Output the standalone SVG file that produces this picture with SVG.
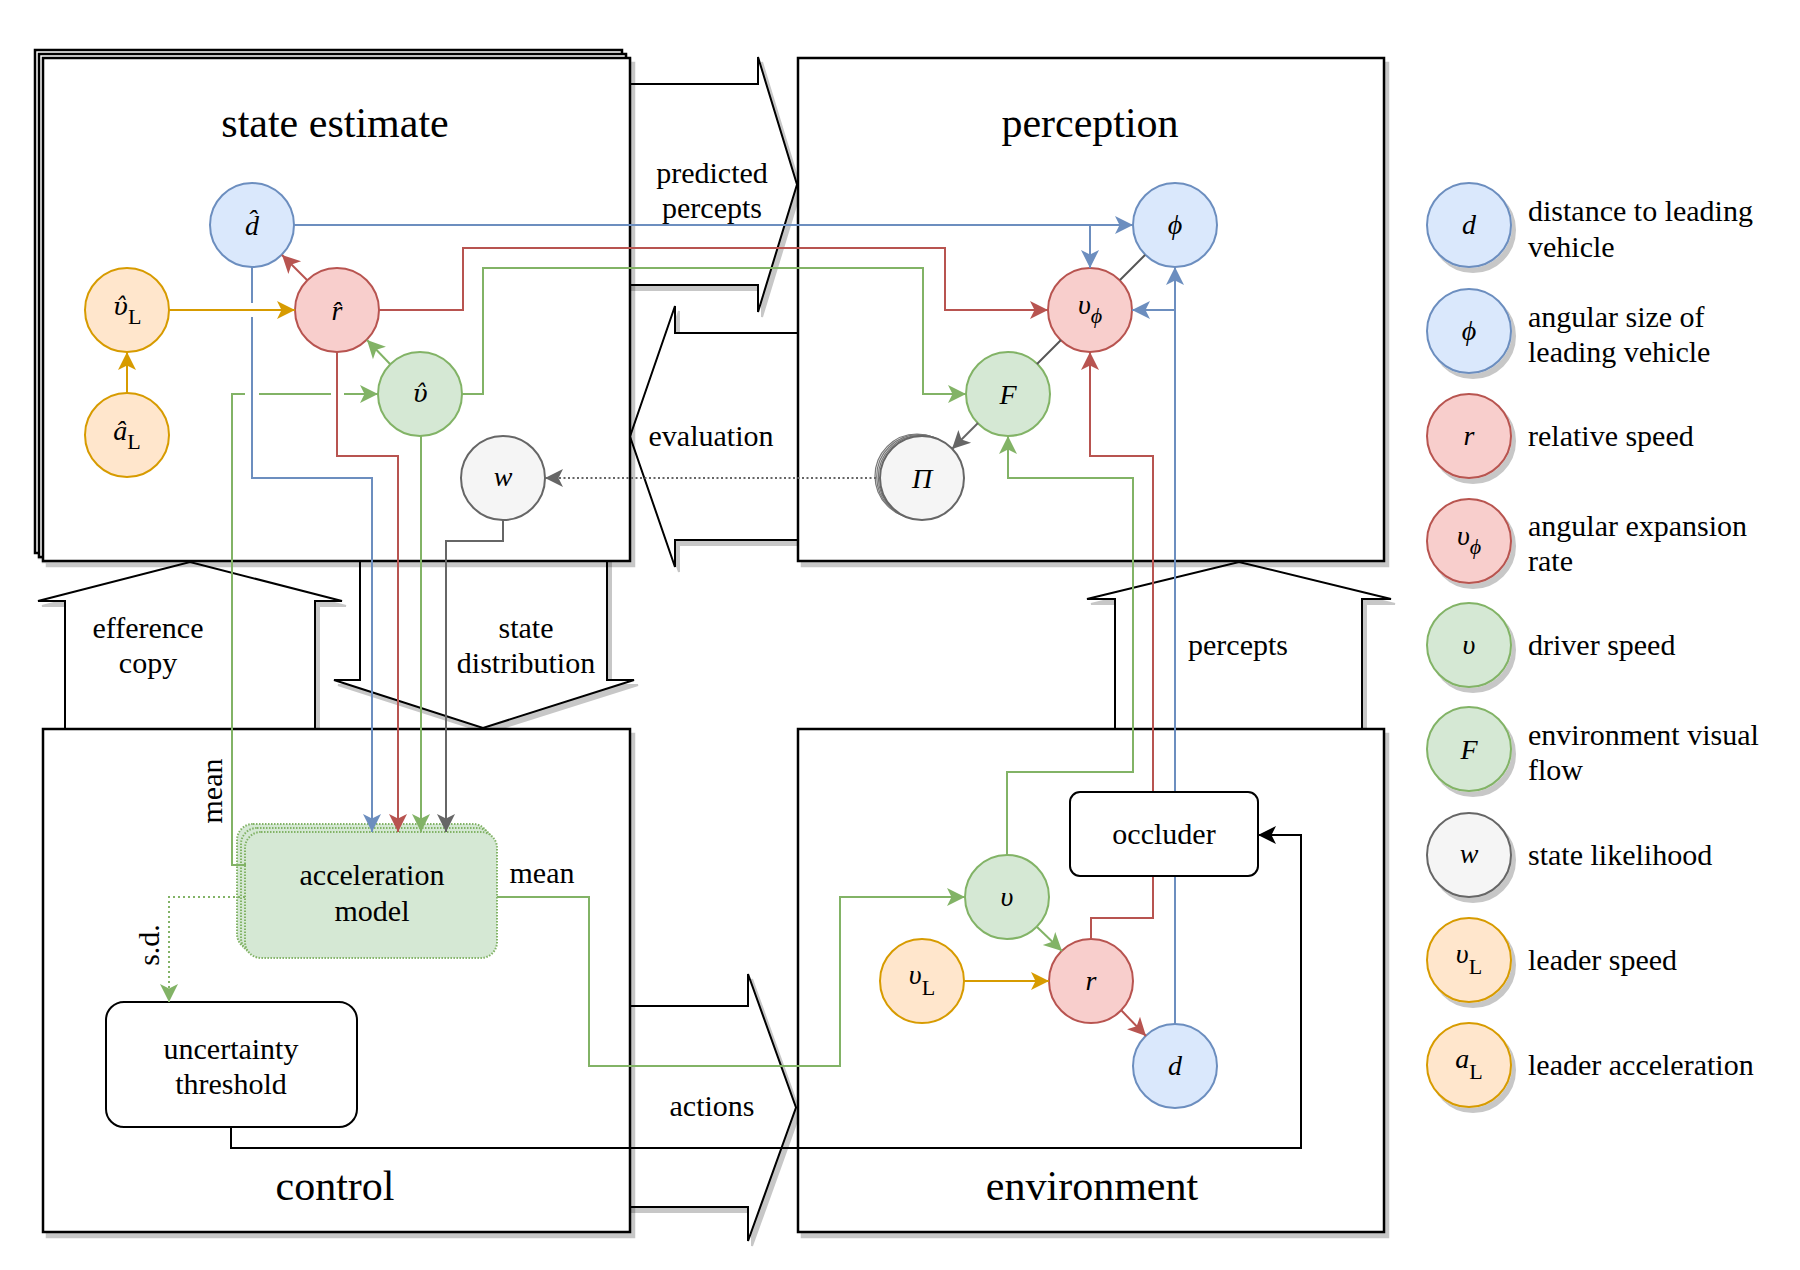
<svg xmlns="http://www.w3.org/2000/svg" width="1800" height="1270" viewBox="0 0 1800 1270">
<defs>
<style>
.box{fill:#fff;stroke:#000;stroke-width:2.5}
.ba{fill:#fff;stroke:#000;stroke-width:2;stroke-linejoin:miter}
.title{font-family:"Liberation Serif","DejaVu Serif",serif;font-size:42px;text-anchor:middle;fill:#000}
.lbl{font-family:"Liberation Serif","DejaVu Serif",serif;font-size:30px;text-anchor:middle;fill:#000}
.leg{font-family:"Liberation Serif","DejaVu Serif",serif;font-size:30px;fill:#000}
.m{font-family:"Liberation Serif","DejaVu Serif",serif;font-style:italic;font-size:28px;text-anchor:middle;fill:#000}
.mu{font-family:"DejaVu Serif",serif;font-size:25px}
.lib{font-family:"Liberation Serif","DejaVu Serif",serif}
.sub{font-style:normal;font-size:22px}
.subi{font-style:italic;font-size:22px}
.nb{fill:#dae8fc;stroke:#6c8ebf;stroke-width:2}
.nr{fill:#f8cecc;stroke:#b85450;stroke-width:2}
.ng{fill:#d5e8d4;stroke:#82b366;stroke-width:2}
.no{fill:#ffe6cc;stroke:#d79b00;stroke-width:2}
.nw{fill:#f5f5f5;stroke:#666;stroke-width:2}
.nwb{fill:#f5f5f5;stroke:#777;stroke-width:1.2}
.am{fill:#d5e8d4;stroke:#82b366;stroke-width:2;stroke-dasharray:1.5 1.5}
.rb{fill:#fff;stroke:#000;stroke-width:2}
.c{fill:none;stroke-width:2}
.cb{stroke:#6c8ebf}
.cr{stroke:#b85450}
.cg{stroke:#82b366}
.co{stroke:#d79b00}
.cw{stroke:#666}
.ck{stroke:#000}
.cd{stroke:#555}
</style>
<filter id="sh" x="-5%" y="-5%" width="115%" height="115%">
<feOffset in="SourceAlpha" dx="4" dy="5" result="o"/>
<feFlood flood-color="#000" flood-opacity="0.22"/>
<feComposite in2="o" operator="in" result="s"/>
<feMerge><feMergeNode in="s"/><feMergeNode in="SourceGraphic"/></feMerge>
</filter>
<marker id="mb" viewBox="0 0 20 20" refX="19" refY="10" markerWidth="20" markerHeight="20" orient="auto" markerUnits="userSpaceOnUse"><path d="M19,10 L1,1 L5.5,10 L1,19 Z" fill="#6c8ebf"/></marker>
<marker id="mr" viewBox="0 0 20 20" refX="19" refY="10" markerWidth="20" markerHeight="20" orient="auto" markerUnits="userSpaceOnUse"><path d="M19,10 L1,1 L5.5,10 L1,19 Z" fill="#b85450"/></marker>
<marker id="mg" viewBox="0 0 20 20" refX="19" refY="10" markerWidth="20" markerHeight="20" orient="auto" markerUnits="userSpaceOnUse"><path d="M19,10 L1,1 L5.5,10 L1,19 Z" fill="#82b366"/></marker>
<marker id="mo" viewBox="0 0 20 20" refX="19" refY="10" markerWidth="20" markerHeight="20" orient="auto" markerUnits="userSpaceOnUse"><path d="M19,10 L1,1 L5.5,10 L1,19 Z" fill="#d79b00"/></marker>
<marker id="mw" viewBox="0 0 20 20" refX="19" refY="10" markerWidth="20" markerHeight="20" orient="auto" markerUnits="userSpaceOnUse"><path d="M19,10 L1,1 L5.5,10 L1,19 Z" fill="#666"/></marker>
<marker id="mk" viewBox="0 0 20 20" refX="19" refY="10" markerWidth="20" markerHeight="20" orient="auto" markerUnits="userSpaceOnUse"><path d="M19,10 L1,1 L5.5,10 L1,19 Z" fill="#000"/></marker>
</defs>
<rect width="1800" height="1270" fill="#fff"/>

<!-- block arrows -->
<g id="arrow-predicted-percepts" filter="url(#sh)"><polygon class="ba" points="620,84 758,84 758,57 797,184.5 758,312 758,285 620,285"/></g>
<g id="arrow-evaluation" filter="url(#sh)"><polygon class="ba" points="800,333 675,333 675,306 630,436.5 675,567 675,540 800,540"/></g>
<g id="arrow-actions" filter="url(#sh)"><polygon class="ba" points="620,1006 748,1006 748,974 796,1107.5 748,1241 748,1207 620,1207"/></g>
<g id="arrow-efference" filter="url(#sh)"><polygon class="ba" points="65,735 65,601 38,601 190,562 342,601 315,601 315,735"/></g>
<g id="arrow-state-distribution" filter="url(#sh)"><polygon class="ba" points="360,555 360,680 334,680 483,728 634,680 607,680 607,555"/></g>
<g id="arrow-percepts" filter="url(#sh)"><polygon class="ba" points="1115,735 1115,599 1087,599 1239,562 1391,599 1362,599 1362,735"/></g>

<!-- containers -->
<g id="state-estimate" filter="url(#sh)">
<rect class="box" x="35" y="50" width="587" height="503"/>
<rect class="box" x="39" y="54" width="587" height="503"/>
<rect class="box" x="43" y="58" width="587" height="503"/>
</g>
<g id="perception" filter="url(#sh)"><rect class="box" x="798" y="58" width="586" height="503"/></g>
<g id="control" filter="url(#sh)"><rect class="box" x="43" y="729" width="587" height="503"/></g>
<g id="environment" filter="url(#sh)"><rect class="box" x="798" y="729" width="586" height="503"/></g>

<g id="titles">
<text class="title" x="335" y="137">state estimate</text>
<text class="title" x="1090" y="137">perception</text>
<text class="title" x="335" y="1200">control</text>
<text class="title" x="1092" y="1200">environment</text>
<text class="lbl" x="712" y="183">predicted</text>
<text class="lbl" x="712" y="218">percepts</text>
<text class="lbl" x="711" y="446">evaluation</text>
<text class="lbl" x="148" y="638">efference</text>
<text class="lbl" x="148" y="673">copy</text>
<text class="lbl" x="526" y="638">state</text>
<text class="lbl" x="526" y="673">distribution</text>
<text class="lbl" x="1238" y="655">percepts</text>
<text class="lbl" x="712" y="1116">actions</text>
<text class="lbl" x="542" y="883">mean</text>
<text class="lbl" transform="translate(222,791) rotate(-90)">mean</text>
<text class="lbl" transform="translate(159,945) rotate(-90)">s.d.</text>
</g>

<!-- state estimate nodes -->
<g id="node-d-hat"><circle class="nb" cx="252" cy="225" r="42"/><text class="m" x="252" y="235">d̂</text></g>
<g id="node-vL-hat"><circle class="no" cx="127" cy="310" r="42"/><text class="m mu" x="127" y="315">υ̂<tspan class="sub lib" dy="9">L</tspan></text></g>
<g id="node-aL-hat"><circle class="no" cx="127" cy="435" r="42"/><text class="m" x="127" y="440">â<tspan class="sub" dy="9">L</tspan></text></g>
<g id="node-r-hat"><circle class="nr" cx="337" cy="310" r="42"/><text class="m" x="337" y="320">r̂</text></g>
<g id="node-v-hat"><circle class="ng" cx="420" cy="394" r="42"/><text class="m mu" x="420" y="402">υ̂</text></g>
<g id="node-w"><circle class="nw" cx="503" cy="478" r="42"/><text class="m" x="503" y="486">w</text></g>

<!-- perception nodes -->
<g id="node-phi"><circle class="nb" cx="1175" cy="225" r="42"/><text class="m" x="1175" y="234">ϕ</text></g>
<g id="node-vphi"><circle class="nr" cx="1090" cy="310" r="42"/><text class="m" x="1090" y="314">υ<tspan class="subi" dy="9">ϕ</tspan></text></g>
<g id="node-F"><circle class="ng" cx="1008" cy="394" r="42"/><text class="m" x="1008" y="404">F</text></g>
<g id="node-Pi">
<circle class="nwb" cx="917" cy="476" r="42"/>
<circle class="nwb" cx="918.7" cy="476.7" r="42"/>
<circle class="nwb" cx="920.3" cy="477.3" r="42"/>
<circle class="nw" cx="922" cy="478" r="42"/>
<text class="m" x="922" y="488">Π</text></g>

<!-- control nodes -->
<g id="node-acceleration-model">
<rect class="am" x="237" y="824" width="252" height="126" rx="16"/>
<rect class="am" x="241" y="828" width="252" height="126" rx="16"/>
<rect class="am" x="245" y="832" width="252" height="126" rx="16"/>
<text class="lbl" x="372" y="885">acceleration</text>
<text class="lbl" x="372" y="921">model</text>
</g>
<g id="node-uncertainty-threshold"><rect class="rb" x="106" y="1002" width="251" height="125" rx="18"/>
<text class="lbl" x="231" y="1059">uncertainty</text>
<text class="lbl" x="231" y="1094">threshold</text></g>

<!-- environment nodes -->
<g id="node-v"><circle class="ng" cx="1007" cy="897" r="42"/><text class="m" x="1007" y="906">υ</text></g>
<g id="node-vL"><circle class="no" cx="922" cy="981" r="42"/><text class="m" x="922" y="984">υ<tspan class="sub" dy="11">L</tspan></text></g>
<g id="node-r"><circle class="nr" cx="1091" cy="981" r="42"/><text class="m" x="1091" y="990">r</text></g>
<g id="node-d"><circle class="nb" cx="1175" cy="1066" r="42"/><text class="m" x="1175" y="1075">d</text></g>

<!-- connectors -->
<g id="connectors">
<path class="c cb" d="M294,225 H1133" marker-end="url(#mb)"/>
<path class="c cb" d="M1090,225 V268" marker-end="url(#mb)"/>
<path class="c cb" d="M252,267 V303 M252,317 V478 H372 V832" marker-end="url(#mb)"/>
<path class="c cb" d="M1175,1024 V267" marker-end="url(#mb)"/>
<path class="c cb" d="M1175,310 H1132" marker-end="url(#mb)"/>

<path class="c cr" d="M307,280 L282,255" marker-end="url(#mr)"/>
<path class="c cr" d="M379,310 H463 V248 H945 V310 H1048" marker-end="url(#mr)"/>
<path class="c cr" d="M337,352 V456 H398 V832" marker-end="url(#mr)"/>
<path class="c cr" d="M1091,939 V918 H1153 V456 H1090 V352" marker-end="url(#mr)"/>
<path class="c cr" d="M1121,1010 L1146,1036" marker-end="url(#mr)"/>

<path class="c cg" d="M390,364 L367,340" marker-end="url(#mg)"/>
<path class="c cg" d="M246,865 H232 V394 H245 M259,394 H331 M344,394 H378" marker-end="url(#mg)"/>
<path class="c cg" d="M421,436 V832" marker-end="url(#mg)"/>
<path class="c cg" d="M462,394 H483 V268 H923 V394 H966" marker-end="url(#mg)"/>
<path class="c cg" d="M1007,855 V772 H1133 V478 H1008 V436" marker-end="url(#mg)"/>
<path class="c cg" d="M497,897 H589 V1066 H840 V897 H965" marker-end="url(#mg)"/>
<path class="c cg" d="M1037,927 L1062,951" marker-end="url(#mg)"/>
<path class="c cg" d="M245,897 H169 V1002" stroke-dasharray="2 3" marker-end="url(#mg)"/>

<path class="c co" d="M127,393 V352" marker-end="url(#mo)"/>
<path class="c co" d="M169,310 H295" marker-end="url(#mo)"/>
<path class="c co" d="M964,981 H1049" marker-end="url(#mo)"/>

<path class="c cw" d="M503,520 V541 H446 V832" marker-end="url(#mw)"/>
<path class="c cd" d="M1145,255 L1120,280"/>
<path class="c cd" d="M1061,340 L1037,364"/>
<path class="c cw" d="M978,423 L952,449" marker-end="url(#mw)"/>
<path class="c cw" d="M876,478 H545" stroke-dasharray="2 2.5" marker-end="url(#mw)"/>

<path class="c ck" d="M231,1127 V1148 H1301 V835 H1258" marker-end="url(#mk)"/>
</g>

<g id="node-occluder"><rect class="rb" x="1070" y="792" width="188" height="84" rx="10"/>
<text class="lbl" x="1164" y="844">occluder</text></g>

<!-- legend -->
<g id="legend-d"><circle class="nb" cx="1469" cy="225" r="42" filter="url(#sh)"/><text class="m" x="1469" y="234">d</text>
<text class="leg" x="1528" y="221">distance to leading</text><text class="leg" x="1528" y="257">vehicle</text></g>
<g id="legend-phi"><circle class="nb" cx="1469" cy="331" r="42" filter="url(#sh)"/><text class="m" x="1469" y="340">ϕ</text>
<text class="leg" x="1528" y="327">angular size of</text><text class="leg" x="1528" y="362">leading vehicle</text></g>
<g id="legend-r"><circle class="nr" cx="1469" cy="436" r="42" filter="url(#sh)"/><text class="m" x="1469" y="445">r</text>
<text class="leg" x="1528" y="446">relative speed</text></g>
<g id="legend-vphi"><circle class="nr" cx="1469" cy="541" r="42" filter="url(#sh)"/><text class="m" x="1469" y="545">υ<tspan class="subi" dy="9">ϕ</tspan></text>
<text class="leg" x="1528" y="536">angular expansion</text><text class="leg" x="1528" y="571">rate</text></g>
<g id="legend-v"><circle class="ng" cx="1469" cy="645" r="42" filter="url(#sh)"/><text class="m" x="1469" y="654">υ</text>
<text class="leg" x="1528" y="655">driver speed</text></g>
<g id="legend-F"><circle class="ng" cx="1469" cy="749" r="42" filter="url(#sh)"/><text class="m" x="1469" y="759">F</text>
<text class="leg" x="1528" y="745">environment visual</text><text class="leg" x="1528" y="780">flow</text></g>
<g id="legend-w"><circle class="nw" cx="1469" cy="855" r="42" filter="url(#sh)"/><text class="m" x="1469" y="863">w</text>
<text class="leg" x="1528" y="865">state likelihood</text></g>
<g id="legend-vL"><circle class="no" cx="1469" cy="960" r="42" filter="url(#sh)"/><text class="m" x="1469" y="963">υ<tspan class="sub" dy="11">L</tspan></text>
<text class="leg" x="1528" y="970">leader speed</text></g>
<g id="legend-aL"><circle class="no" cx="1469" cy="1065" r="42" filter="url(#sh)"/><text class="m" x="1469" y="1068">a<tspan class="sub" dy="11">L</tspan></text>
<text class="leg" x="1528" y="1075">leader acceleration</text></g>
</svg>
